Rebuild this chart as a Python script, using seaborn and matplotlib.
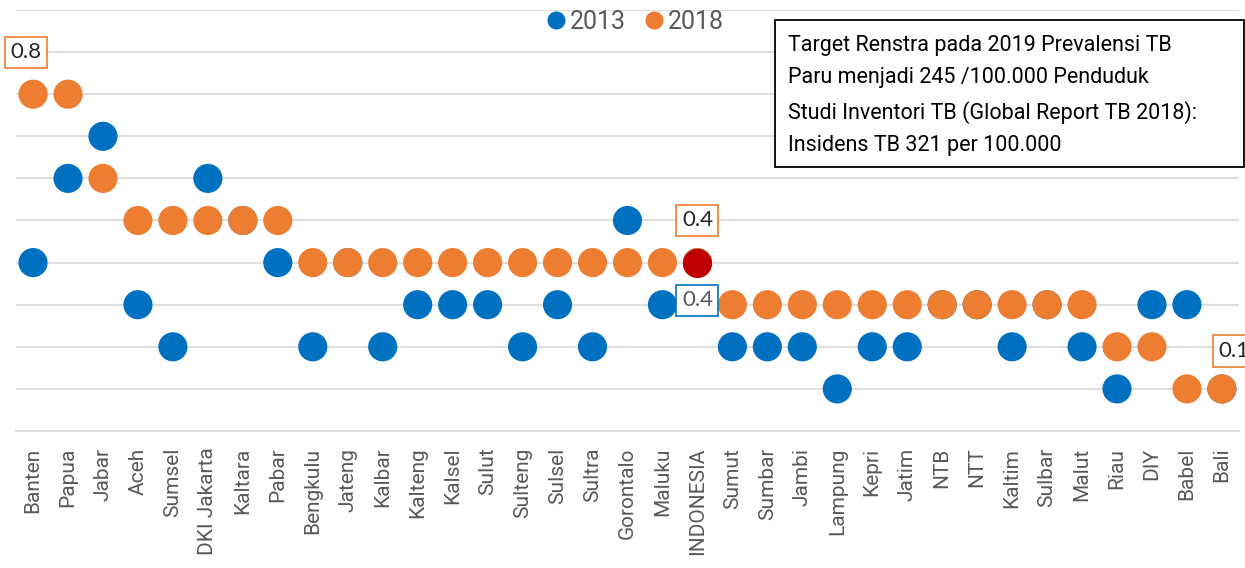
import matplotlib.pyplot as plt
import seaborn as sns
import pandas as pd
from matplotlib.lines import Line2D
from matplotlib.patches import Rectangle

provinces = ["Banten", "Papua", "Jabar", "Aceh", "Sumsel", "DKI Jakarta", "Kaltara",
             "Pabar", "Bengkulu", "Jateng", "Kalbar", "Kalteng", "Kalsel", "Sulut",
             "Sulteng", "Sulsel", "Sultra", "Gorontalo", "Maluku", "INDONESIA",
             "Sumut", "Sumbar", "Jambi", "Lampung", "Kepri", "Jatim", "NTB", "NTT",
             "Kaltim", "Sulbar", "Malut", "Riau", "DIY", "Babel", "Bali"]
val_2013 = [0.4, 0.6, 0.7, 0.3, 0.2, 0.6, 0.5,
            0.4, 0.2, 0.4, 0.2, 0.3, 0.3, 0.3,
            0.2, 0.3, 0.2, 0.5, 0.3, 0.4,
            0.2, 0.2, 0.2, 0.1, 0.2, 0.2, 0.3, 0.3,
            0.2, 0.3, 0.2, 0.1, 0.3, 0.3, 0.1]
val_2018 = [0.8, 0.8, 0.6, 0.5, 0.5, 0.5, 0.5,
            0.5, 0.4, 0.4, 0.4, 0.4, 0.4, 0.4,
            0.4, 0.4, 0.4, 0.4, 0.4, 0.4,
            0.3, 0.3, 0.3, 0.3, 0.3, 0.3, 0.3, 0.3,
            0.3, 0.3, 0.3, 0.2, 0.2, 0.1, 0.1]
note_lines = ["Target Renstra pada 2019 Prevalensi TB",
              "Paru menjadi 245 /100.000 Penduduk",
              "Studi Inventori TB (Global Report TB 2018):",
              "Insidens TB 321 per 100.000"]

BLUE = "#0070C0"
ORANGE = "#ED7D31"
RED = "#C00000"
GREY = "#595959"
NARROW = ["Roboto", "DejaVu Sans"]
LABF = ["Lato", "DejaVu Sans"]

df = pd.DataFrame({
    "prov": provinces * 2,
    "x": list(range(len(provinces))) * 2,
    "val": val_2013 + val_2018,
    "year": ["2013"] * len(provinces) + ["2018"] * len(provinces),
})

sns.set_style("white")
fig = plt.figure(figsize=(12.45, 5.68), dpi=100)
ax = fig.add_axes([0.0125, 0.2412, 0.983, 0.7412])

sns.scatterplot(data=df, x="x", y="val", hue="year",
                palette={"2013": BLUE, "2018": ORANGE},
                s=440, linewidth=0, ax=ax, legend=False, zorder=3)
idx = provinces.index("INDONESIA")
ax.scatter([idx], [val_2018[idx]], s=440, color=RED, linewidth=0, zorder=4)

ax.set_xlim(-0.5, len(provinces) - 0.5)
ax.set_ylim(0, 1.0)
ax.set_yticks([i / 10 for i in range(11)])
ax.set_yticklabels([])
ax.grid(axis="y", color="#D9D9D9", linewidth=1.2)
ax.set_axisbelow(True)
for s in ["left", "right", "top"]:
    ax.spines[s].set_visible(False)
ax.spines["bottom"].set_color("#D9D9D9")
ax.spines["bottom"].set_linewidth(1.2)
ax.tick_params(axis="y", length=0)
ax.tick_params(axis="x", length=0, pad=12)
ax.set_xticks(range(len(provinces)))
ax.set_xticklabels(provinces, rotation=90, fontsize=15, color=GREY, family=NARROW,
                   va="top", ha="center")
ax.set_xlabel("")
ax.set_ylabel("")

# data labels
box_o = dict(boxstyle="square,pad=0.25", fc="white", ec=ORANGE, lw=1.2)
ax.text(-0.2, 0.9, "0.8", ha="center", va="center", fontsize=16, family=LABF,
        bbox=box_o, zorder=5)
ax.text(idx, 0.5, "0.4", ha="center", va="center", fontsize=16, family=LABF,
        bbox=box_o, zorder=5)
ax.text(idx, 0.31, "0.4", ha="center", va="center", fontsize=16, family=LABF, color=GREY,
        bbox=dict(boxstyle="square,pad=0.25", fc="white", ec=BLUE, lw=1.2), zorder=5)
ax.text(33.9, 0.19, "0.1", ha="left", va="center", fontsize=16, family=LABF,
        bbox=box_o, zorder=5, clip_on=False)

# legend
handles = [Line2D([], [], marker="o", linestyle="", color=BLUE, markersize=12),
           Line2D([], [], marker="o", linestyle="", color=ORANGE, markersize=12)]
fig.legend(handles, ["2013", "2018"], loc="center", bbox_to_anchor=(0.509, 0.962),
           ncol=2, frameon=False, handletextpad=0.05, columnspacing=0.6,
           prop={"family": NARROW, "size": 18}, labelcolor=GREY, handlelength=1.0)

# note box
fig.patches.append(Rectangle((0.6225, 0.706), 0.3767, 0.2588, transform=fig.transFigure,
                             fc="white", ec="black", lw=1.3, zorder=6))
fig.text(0.633, 0.8315, "\n".join(note_lines), ha="left", va="center", fontsize=15.5,
         family=NARROW, color="black", linespacing=1.7, zorder=7)

fig.savefig("out.png", dpi=100)
